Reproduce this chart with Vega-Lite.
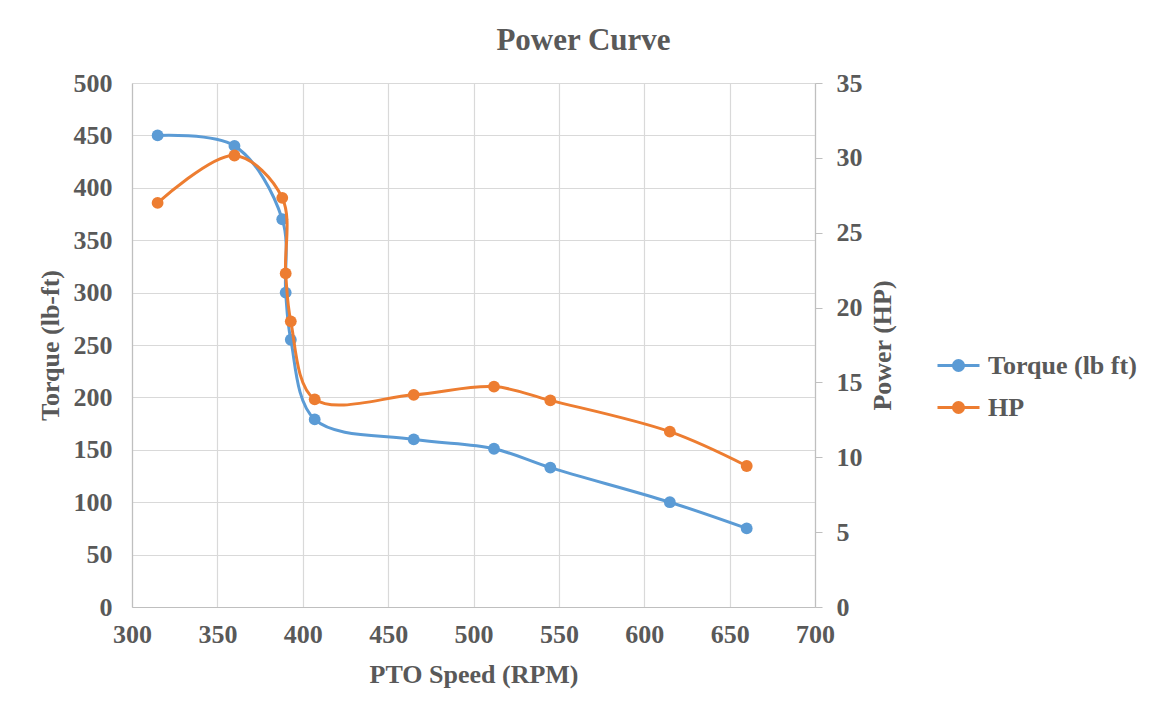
{
  "$schema": "https://vega.github.io/schema/vega-lite/v6.json",
  "autosize": "none",
  "width": 683,
  "height": 524,
  "padding": {"left": 132, "top": 83, "right": 336, "bottom": 105},
  "background": "white",
  "title": {
    "text": "Power Curve",
    "font": "Liberation Serif",
    "fontSize": 31,
    "fontWeight": "bold",
    "color": "#595959",
    "anchor": "middle",
    "frame": "group",
    "dx": 110,
    "offset": 13
  },
  "data": {
    "values": [
      {"rpm": 315, "torque": 450, "hp": 26.99},
      {"rpm": 360, "torque": 440, "hp": 30.16},
      {"rpm": 388, "torque": 370, "hp": 27.33},
      {"rpm": 390, "torque": 300, "hp": 22.28},
      {"rpm": 393, "torque": 255, "hp": 19.08},
      {"rpm": 407, "torque": 179, "hp": 13.87},
      {"rpm": 465, "torque": 160, "hp": 14.17},
      {"rpm": 512, "torque": 151, "hp": 14.72},
      {"rpm": 545, "torque": 133, "hp": 13.80},
      {"rpm": 615, "torque": 100, "hp": 11.71},
      {"rpm": 660, "torque": 75, "hp": 9.42}
    ]
  },
  "encoding": {
    "x": {
      "field": "rpm",
      "type": "quantitative",
      "scale": {"domain": [300, 700], "nice": false, "zero": false},
      "axis": {
        "title": "PTO Speed (RPM)",
        "values": [300, 350, 400, 450, 500, 550, 600, 650, 700],
        "grid": true,
        "ticks": false,
        "labelFlush": false,
        "labelPadding": 14,
        "titlePadding": 14
      }
    }
  },
  "layer": [
    {
      "mark": {
        "type": "line",
        "interpolate": "catmull-rom",
        "strokeWidth": 3,
        "point": {"filled": true, "size": 140}
      },
      "encoding": {
        "y": {
          "field": "torque",
          "type": "quantitative",
          "scale": {"domain": [0, 500], "nice": false},
          "axis": {
            "title": "Torque (lb-ft)",
            "orient": "left",
            "values": [0, 50, 100, 150, 200, 250, 300, 350, 400, 450, 500],
            "grid": true,
            "ticks": false,
            "labelFlush": false,
            "labelPadding": 20,
            "titlePadding": 10
          }
        },
        "color": {
          "datum": "Torque (lb ft)",
          "scale": {"domain": ["Torque (lb ft)", "HP"], "range": ["#5b9bd5", "#ed7d31"]},
          "legend": {
            "orient": "none",
            "legendX": 804,
            "legendY": 260,
            "title": null,
            "padding": 0,
            "rowPadding": 6,
            "symbolType": "M-1,0H1M-0.24,0A0.24,0.24,0,1,1,0.24,0A0.24,0.24,0,1,1,-0.24,0",
            "symbolSize": 1764,
            "symbolStrokeWidth": 3,
            "labelOffset": 7,
            "labelFont": "Liberation Serif",
            "labelFontSize": 26,
            "labelFontWeight": "bold",
            "labelColor": "#595959",
            "encode": {
              "symbols": {
                "update": {
                  "fill": {"scale": "color", "field": "value"},
                  "stroke": {"scale": "color", "field": "value"},
                  "opacity": {"value": 1}
                }
              }
            }
          }
        }
      }
    },
    {
      "mark": {
        "type": "line",
        "interpolate": "catmull-rom",
        "strokeWidth": 3,
        "point": {"filled": true, "size": 140}
      },
      "encoding": {
        "y": {
          "field": "hp",
          "type": "quantitative",
          "scale": {"domain": [0, 35], "nice": false},
          "axis": {
            "title": "Power (HP)",
            "orient": "right",
            "titleAngle": 270,
            "values": [0, 5, 10, 15, 20, 25, 30, 35],
            "grid": false,
            "ticks": true,
            "tickSize": 7,
            "tickColor": "#bfbfbf",
            "labelFlush": false,
            "labelPadding": 14,
            "titlePadding": 33
          }
        },
        "color": {"datum": "HP"}
      }
    }
  ],
  "resolve": {"scale": {"y": "independent"}},
  "config": {
    "view": {"stroke": null},
    "axis": {
      "labelFont": "Liberation Serif",
      "labelFontSize": 26,
      "labelFontWeight": "bold",
      "labelColor": "#595959",
      "titleFont": "Liberation Serif",
      "titleFontSize": 26,
      "titleFontWeight": "bold",
      "titleColor": "#595959",
      "gridColor": "#d9d9d9",
      "gridWidth": 1.2,
      "domainColor": "#bfbfbf",
      "domainWidth": 1.2,
      "labelOverlap": false
    }
  }
}
